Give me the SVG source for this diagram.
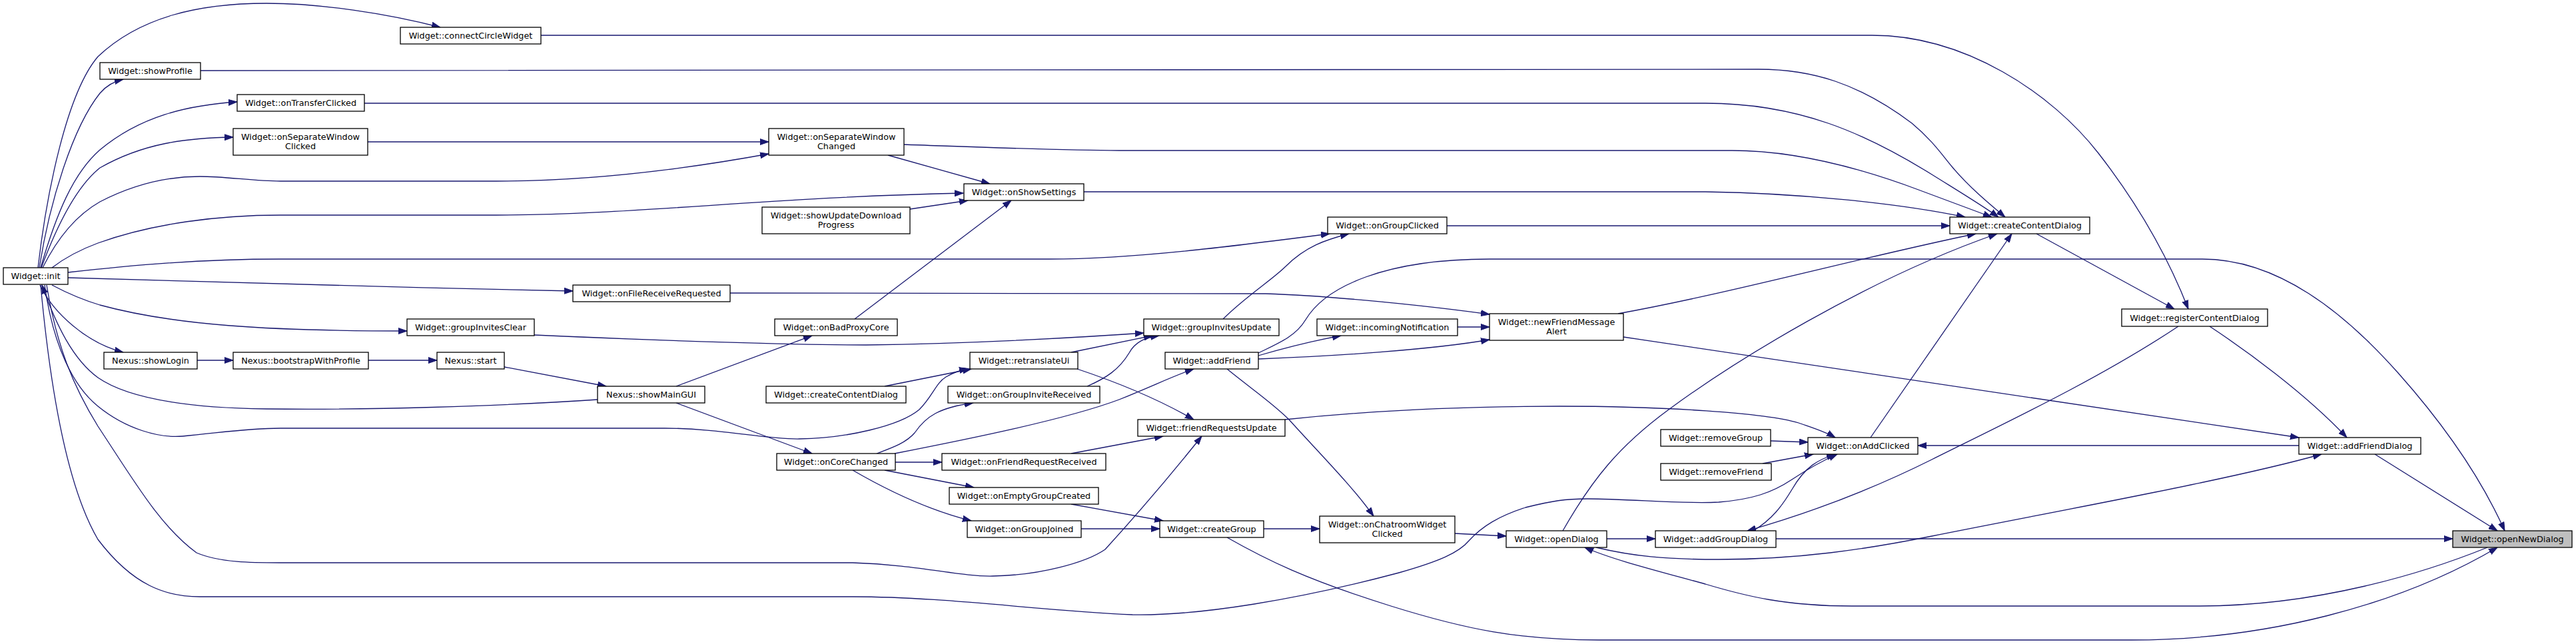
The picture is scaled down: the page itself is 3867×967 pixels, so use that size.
<svg xmlns="http://www.w3.org/2000/svg" width="3867" height="967" viewBox="0 0 3867 967">
<style>
.n{fill:#ffffff;stroke:#000000;stroke-width:1.3}
.nf{fill:#bfbfbf;stroke:#000000;stroke-width:1.3}
.t{font-family:"DejaVu Sans","Liberation Sans",sans-serif;font-size:12.8px;fill:#000000;text-anchor:middle}
.e{fill:none;stroke:#191970;stroke-width:1.3;marker-end:url(#ah)}
</style>
<defs>
<marker id="ah" markerUnits="userSpaceOnUse" markerWidth="14" markerHeight="10" refX="13" refY="5" orient="auto">
<path d="M0,0.5 L13,5 L0,9.5 z" fill="#191970" stroke="#191970" stroke-width="1"/>
</marker>
</defs>
<rect width="3867" height="967" fill="#ffffff"/>
<g id="edges">
<path class="e" d="M57,402 C70,290 100,140 147,85 C210,25 300,5 400,5 C480,5 580,20 661,41"/>
<path class="e" d="M59,402 C75,300 110,190 150,140 C160,128 172,122 185,119"/>
<path class="e" d="M61,402 C85,320 110,260 150,225 C210,175 280,158 356,153"/>
<path class="e" d="M62,402 C85,340 115,280 150,252 C215,215 280,207 350,206"/>
<path class="e" d="M64,402 C90,350 120,320 150,303 C210,272 260,265 300,265 C340,265 380,272 421,272 L745,272 C900,272 1050,250 1154,231"/>
<path class="e" d="M78,402 C100,385 120,375 147,365 C230,335 330,323 421,323 L745,323 C950,323 1150,296 1446,290"/>
<path class="e" d="M102,409 C200,398 300,389 421,389 L1575,389 C1700,389 1850,370 1996,351"/>
<path class="e" d="M102,417 C300,423 600,432 860,437"/>
<path class="e" d="M78,428 C110,445 130,452 150,458 C260,488 400,497 611,497"/>
<path class="e" d="M60,428 C80,470 130,515 185,529"/>
<path class="e" d="M897,600 C750,610 550,616 400,614 C250,612 180,590 147,567 C110,540 85,490 63,428"/>
<path class="e" d="M67,428 C80,520 110,580 147,610 C190,645 240,658 274,655 C330,650 370,643 421,643 L998,643 C1080,643 1150,660 1200,659 C1270,658 1350,640 1380,615 C1400,595 1405,575 1420,566 C1430,560 1440,556 1453,554"/>
<path class="e" d="M70,428 C85,520 110,580 147,640 C200,720 240,790 295,830 C330,845 380,845 421,845 L1280,845 C1380,848 1440,866 1490,865 C1560,864 1630,845 1659,825 C1700,780 1760,710 1804,655"/>
<path class="e" d="M61,428 C75,580 100,730 147,810 C200,880 250,896 300,896 L1280,896 C1420,896 1560,917 1700,923 C1800,925 1950,900 2100,860 C2160,843 2190,830 2205,812 C2225,790 2250,775 2290,762 C2330,752 2350,749 2383,749 C2450,749 2520,757 2580,754 C2630,750 2660,740 2690,720 C2720,700 2740,690 2758,682"/>
<path class="e" d="M812,53 L2810,53 C2950,53 3080,140 3150,230 C3220,320 3260,400 3285,464"/>
<path class="e" d="M301,106 L2640,104 C2720,104 2790,125 2870,185 C2900,210 2915,232 2930,250 C2955,280 2985,305 3010,326"/>
<path class="e" d="M547,155 L2560,155 C2700,155 2800,200 2900,262 C2940,287 2975,308 3000,326"/>
<path class="e" d="M1357,217 C1500,222 1600,226 1680,226 L2600,226 C2700,226 2800,255 2880,285 C2920,300 2960,315 2990,326"/>
<path class="e" d="M1627,288 L2560,288 C2700,290 2850,305 2950,326"/>
<path class="e" d="M2172,339 L2927,339"/>
<path class="e" d="M2429,471 C2600,440 2800,385 2966,351"/>
<path class="e" d="M2346,797 C2390,720 2430,670 2505,615 C2600,545 2800,420 2998,351"/>
<path class="e" d="M2808,657 L3020,351"/>
<path class="e" d="M3057,351 L3264,464"/>
<path class="e" d="M3317,490 C3370,525 3460,590 3523,657"/>
<path class="e" d="M3270,490 C3150,570 3000,640 2900,690 C2800,740 2700,775 2623,797"/>
<path class="e" d="M3565,682 L3749,797"/>
<path class="e" d="M1889,530 C1920,515 1945,505 1960,480 C1990,430 2080,389 2236,389 L3306,389 C3420,389 3520,470 3600,560 C3680,650 3730,730 3760,797"/>
<path class="e" d="M1889,534 C1930,522 1970,512 2013,504"/>
<path class="e" d="M1889,539 C2000,535 2150,525 2236,510"/>
<path class="e" d="M2188,491 L2236,491"/>
<path class="e" d="M1096,440 L1900,441 C2000,444 2150,460 2236,472"/>
<path class="e" d="M1836,479 C1870,445 1910,420 1930,400 C1960,370 1990,360 2025,351"/>
<path class="e" d="M552,213 L1154,213"/>
<path class="e" d="M1333,233 L1486,276"/>
<path class="e" d="M1366,314 L1453,301"/>
<path class="e" d="M1283,479 L1518,301"/>
<path class="e" d="M1015,580 L1219,504"/>
<path class="e" d="M1015,605 L1219,681"/>
<path class="e" d="M757,551 L910,580"/>
<path class="e" d="M553,541 L656,541"/>
<path class="e" d="M296,541 L350,541"/>
<path class="e" d="M802,503 C1000,512 1200,518 1300,518 C1450,516 1600,508 1717,500"/>
<path class="e" d="M1608,529 L1730,504"/>
<path class="e" d="M1632,580 C1660,568 1680,555 1695,530 C1705,512 1720,507 1740,504"/>
<path class="e" d="M1328,580 L1458,554"/>
<path class="e" d="M1617,554 C1680,575 1740,600 1792,630"/>
<path class="e" d="M1316,681 C1340,672 1360,665 1373,650 C1390,625 1410,612 1461,605"/>
<path class="e" d="M1343,681 C1450,660 1600,630 1680,600 C1730,580 1760,565 1792,554"/>
<path class="e" d="M1344,694 L1414,694"/>
<path class="e" d="M1608,681 L1746,655"/>
<path class="e" d="M1328,706 L1462,732"/>
<path class="e" d="M1608,757 L1746,782"/>
<path class="e" d="M1280,706 C1330,735 1390,765 1458,782"/>
<path class="e" d="M1623,794 L1741,794"/>
<path class="e" d="M1897,794 L1981,794"/>
<path class="e" d="M1842,807 C1900,840 1960,870 2088,910 C2200,945 2280,961 2400,961 L3200,961 C3400,961 3600,910 3749,822"/>
<path class="e" d="M1842,554 C1880,585 1910,605 1935,630 C1980,680 2030,730 2062,775"/>
<path class="e" d="M2184,801 L2261,805"/>
<path class="e" d="M2412,809 L2485,809"/>
<path class="e" d="M2396,822 C2450,835 2500,840 2580,840 C2700,840 2800,825 2900,805 C3100,765 3350,720 3485,682"/>
<path class="e" d="M3734,822 C3640,860 3480,910 3300,910 L2780,910 C2680,910 2620,895 2560,877 C2480,855 2420,840 2379,822"/>
<path class="e" d="M2666,809 L3682,809"/>
<path class="e" d="M2632,797 C2660,780 2675,760 2690,735 C2710,700 2730,690 2755,682"/>
<path class="e" d="M2658,662 L2714,664"/>
<path class="e" d="M2646,696 L2722,682"/>
<path class="e" d="M1929,630 C2100,612 2250,610 2341,610 C2500,610 2650,620 2700,635 C2720,642 2740,648 2755,657"/>
<path class="e" d="M3451,669 L2879,669"/>
<path class="e" d="M2437,506 L3451,657"/>
</g>
<g id="init"><rect class="n" x="5" y="402" width="97" height="25"/><text class="t" x="53.5" y="419">Widget::init</text></g>
<g id="connectCircleWidget"><rect class="n" x="601" y="41" width="211" height="25"/><text class="t" x="706.5" y="58">Widget::connectCircleWidget</text></g>
<g id="showProfile"><rect class="n" x="150" y="94" width="151" height="25"/><text class="t" x="225.5" y="111">Widget::showProfile</text></g>
<g id="onTransferClicked"><rect class="n" x="356" y="142" width="191" height="25"/><text class="t" x="451.5" y="159">Widget::onTransferClicked</text></g>
<g id="onSeparateWindowClicked"><rect class="n" x="350" y="193" width="202" height="40"/><text class="t" x="451" y="210">Widget::onSeparateWindow</text><text class="t" x="451" y="224">Clicked</text></g>
<g id="onSeparateWindowChanged"><rect class="n" x="1154" y="193" width="203" height="40"/><text class="t" x="1255.5" y="210">Widget::onSeparateWindow</text><text class="t" x="1255.5" y="224">Changed</text></g>
<g id="showUpdateDownloadProgress"><rect class="n" x="1144" y="311" width="222" height="40"/><text class="t" x="1255" y="328">Widget::showUpdateDownload</text><text class="t" x="1255" y="342">Progress</text></g>
<g id="onFileReceiveRequested"><rect class="n" x="860" y="428" width="236" height="25"/><text class="t" x="978" y="445">Widget::onFileReceiveRequested</text></g>
<g id="onShowSettings"><rect class="n" x="1447" y="276" width="180" height="25"/><text class="t" x="1537" y="293">Widget::onShowSettings</text></g>
<g id="onGroupClicked"><rect class="n" x="1993" y="326" width="179" height="25"/><text class="t" x="2082.5" y="343">Widget::onGroupClicked</text></g>
<g id="newFriendMessageAlert"><rect class="n" x="2236" y="471" width="201" height="40"/><text class="t" x="2336.5" y="488">Widget::newFriendMessage</text><text class="t" x="2336.5" y="502">Alert</text></g>
<g id="createContentDialog"><rect class="n" x="2927" y="326" width="210" height="25"/><text class="t" x="3032" y="343">Widget::createContentDialog</text></g>
<g id="registerContentDialog"><rect class="n" x="3185" y="464" width="219" height="26"/><text class="t" x="3294.5" y="481.5">Widget::registerContentDialog</text></g>
<g id="groupInvitesClear"><rect class="n" x="611" y="479" width="191" height="25"/><text class="t" x="706.5" y="496">Widget::groupInvitesClear</text></g>
<g id="showLogin"><rect class="n" x="156" y="529" width="140" height="25"/><text class="t" x="226" y="546">Nexus::showLogin</text></g>
<g id="bootstrapWithProfile"><rect class="n" x="350" y="529" width="203" height="25"/><text class="t" x="451.5" y="546">Nexus::bootstrapWithProfile</text></g>
<g id="start"><rect class="n" x="656" y="529" width="101" height="25"/><text class="t" x="706.5" y="546">Nexus::start</text></g>
<g id="onBadProxyCore"><rect class="n" x="1163" y="479" width="184" height="25"/><text class="t" x="1255" y="496">Widget::onBadProxyCore</text></g>
<g id="showMainGUI"><rect class="n" x="897" y="580" width="161" height="25"/><text class="t" x="977.5" y="597">Nexus::showMainGUI</text></g>
<g id="createContentDialog2"><rect class="n" x="1150" y="580" width="210" height="25"/><text class="t" x="1255" y="597">Widget::createContentDialog</text></g>
<g id="onCoreChanged"><rect class="n" x="1166" y="681" width="178" height="25"/><text class="t" x="1255" y="698">Widget::onCoreChanged</text></g>
<g id="groupInvitesUpdate"><rect class="n" x="1717" y="479" width="203" height="25"/><text class="t" x="1818.5" y="496">Widget::groupInvitesUpdate</text></g>
<g id="retranslateUi"><rect class="n" x="1456" y="529" width="162" height="25"/><text class="t" x="1537" y="546">Widget::retranslateUi</text></g>
<g id="onGroupInviteReceived"><rect class="n" x="1423" y="580" width="228" height="25"/><text class="t" x="1537" y="597">Widget::onGroupInviteReceived</text></g>
<g id="addFriend"><rect class="n" x="1749" y="529" width="140" height="25"/><text class="t" x="1819" y="546">Widget::addFriend</text></g>
<g id="friendRequestsUpdate"><rect class="n" x="1708" y="630" width="221" height="25"/><text class="t" x="1818.5" y="647">Widget::friendRequestsUpdate</text></g>
<g id="onFriendRequestReceived"><rect class="n" x="1414" y="681" width="246" height="25"/><text class="t" x="1537" y="698">Widget::onFriendRequestReceived</text></g>
<g id="onEmptyGroupCreated"><rect class="n" x="1425" y="732" width="224" height="25"/><text class="t" x="1537" y="749">Widget::onEmptyGroupCreated</text></g>
<g id="onGroupJoined"><rect class="n" x="1452" y="782" width="171" height="25"/><text class="t" x="1537.5" y="799">Widget::onGroupJoined</text></g>
<g id="createGroup"><rect class="n" x="1741" y="782" width="156" height="25"/><text class="t" x="1819" y="799">Widget::createGroup</text></g>
<g id="incomingNotification"><rect class="n" x="1977" y="479" width="211" height="25"/><text class="t" x="2082.5" y="496">Widget::incomingNotification</text></g>
<g id="onChatroomWidgetClicked"><rect class="n" x="1981" y="775" width="203" height="40"/><text class="t" x="2082.5" y="792">Widget::onChatroomWidget</text><text class="t" x="2082.5" y="806">Clicked</text></g>
<g id="openDialog"><rect class="n" x="2261" y="797" width="151" height="25"/><text class="t" x="2336.5" y="814">Widget::openDialog</text></g>
<g id="removeGroup"><rect class="n" x="2493" y="645" width="165" height="25"/><text class="t" x="2575.5" y="662">Widget::removeGroup</text></g>
<g id="removeFriend"><rect class="n" x="2493" y="696" width="166" height="25"/><text class="t" x="2576" y="713">Widget::removeFriend</text></g>
<g id="addGroupDialog"><rect class="n" x="2485" y="797" width="181" height="25"/><text class="t" x="2575.5" y="814">Widget::addGroupDialog</text></g>
<g id="onAddClicked"><rect class="n" x="2714" y="657" width="165" height="25"/><text class="t" x="2796.5" y="674">Widget::onAddClicked</text></g>
<g id="addFriendDialog"><rect class="n" x="3451" y="657" width="183" height="25"/><text class="t" x="3542.5" y="674">Widget::addFriendDialog</text></g>
<g id="openNewDialog"><rect class="nf" x="3682" y="797" width="179" height="25"/><text class="t" x="3771.5" y="814">Widget::openNewDialog</text></g>
</svg>
